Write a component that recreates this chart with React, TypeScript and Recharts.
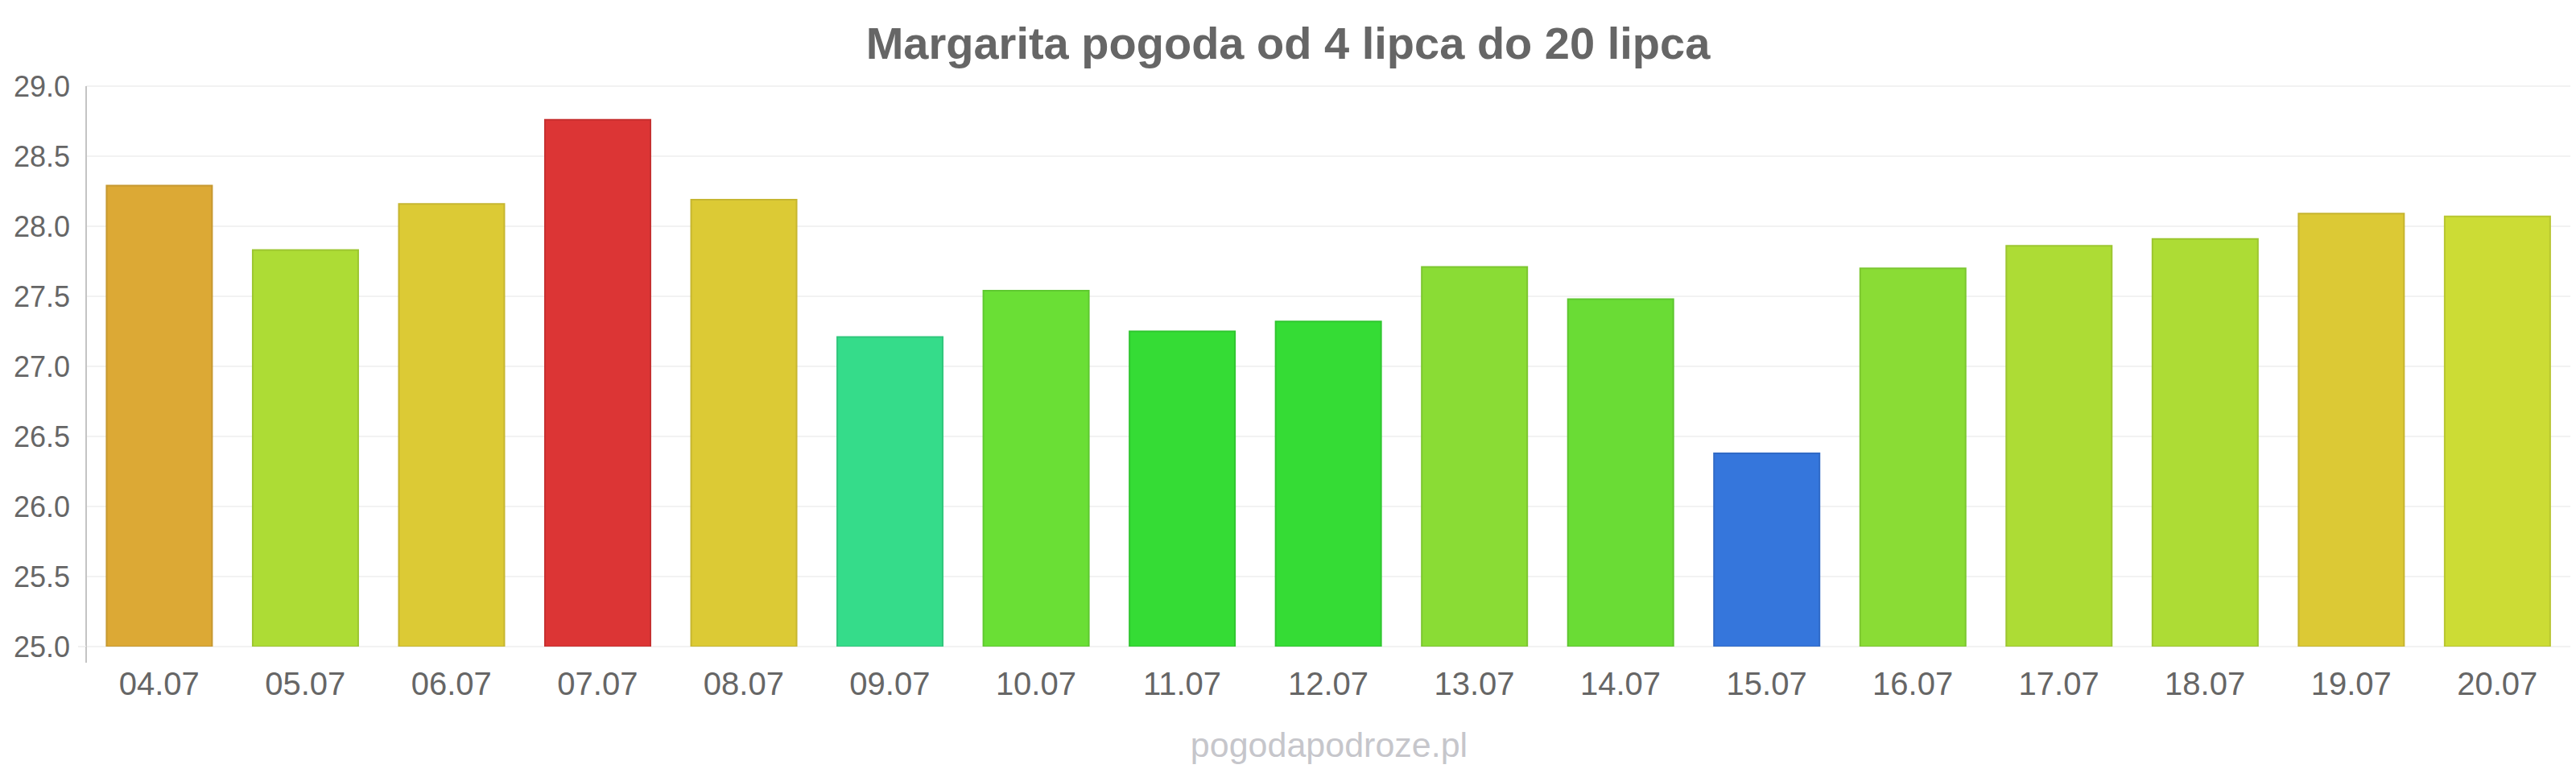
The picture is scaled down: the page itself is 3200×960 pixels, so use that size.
import React from 'react';
import { BarChart, Bar, XAxis, YAxis, CartesianGrid, Cell } from 'recharts';

// Daily temperatures, 4–20 July
const days = [
  '04.07', '05.07', '06.07', '07.07', '08.07', '09.07', '10.07', '11.07', '12.07',
  '13.07', '14.07', '15.07', '16.07', '17.07', '18.07', '19.07', '20.07',
];
const temps = [
  28.29, 27.83, 28.16, 28.76, 28.19, 27.21, 27.54, 27.25, 27.32,
  27.71, 27.48, 26.38, 27.70, 27.86, 27.91, 28.09, 28.07,
];
const barColors = [
  '#dca935', '#addc35', '#dcca35', '#dc3535', '#dcca35', '#35dc8a', '#6adf35', '#35dc35', '#35dc35',
  '#8adc35', '#6adc35', '#3576dc', '#8adc35', '#addc35', '#addc35', '#dcc935', '#ccdc35',
];
const yTicks = [25, 25.5, 26, 26.5, 27, 27.5, 28, 28.5, 29];

const title = 'Margarita pogoda od 4 lipca do 20 lipca';
const watermark = 'pogodapodroze.pl';

const data = days.map((day, i) => ({ day, temp: temps[i] }));

const FONT = '"Liberation Sans", Arial, sans-serif';

function darken(hex: string, f: number) {
  const n = parseInt(hex.slice(1), 16);
  const r = Math.round(((n >> 16) & 255) * f);
  const g = Math.round(((n >> 8) & 255) * f);
  const b = Math.round((n & 255) * f);
  return `rgb(${r},${g},${b})`;
}

const YTick = (props: any) => {
  const { x, y, payload } = props;
  const v = Number(payload.value);
  return (
    <g>
      <text x={x - 20} y={y} dy="0.36em" textAnchor="end" fill="#666" fontSize={36} fontFamily={FONT}>
        {v.toFixed(1)}
      </text>
      {v === 25 && (
        <>
          <line x1={x - 10} y1={y} x2={x} y2={y} stroke="#f0f0f0" strokeWidth={2} />
          <line x1={x} y1={y} x2={x} y2={y + 20} stroke="#c4c4c4" strokeWidth={2} />
        </>
      )}
    </g>
  );
};

const XTick = (props: any) => {
  const { x, y, payload } = props;
  return (
    <text x={x} y={y + 60} textAnchor="middle" fill="#666" fontSize={40} fontFamily={FONT}>
      {payload.value}
    </text>
  );
};

export default function App() {
  return (
    <div style={{ position: 'absolute', left: 0, top: 0, width: 3200, height: 960, background: '#fff' }}>
      <BarChart
        width={3200}
        height={960}
        data={data}
        margin={{ top: 107, right: 7, bottom: 0, left: 0 }}
        barCategoryGap="14%"
      >
        <CartesianGrid vertical={false} stroke="#f2f2f2" strokeWidth={2} />
        <XAxis
          dataKey="day"
          height={157}
          axisLine={false}
          tickLine={false}
          tickSize={0}
          tickMargin={0}
          tick={<XTick />}
          interval={0}
        />
        <YAxis
          width={107}
          domain={[25, 29]}
          ticks={yTicks}
          allowDataOverflow
          axisLine={{ stroke: '#c4c4c4', strokeWidth: 2 }}
          tickLine={false}
          tickSize={0}
          tickMargin={0}
          tick={<YTick />}
          interval={0}
        />
        <Bar dataKey="temp" isAnimationActive={false} strokeWidth={2}>
          {data.map((d, i) => (
            <Cell key={d.day} fill={barColors[i]} stroke={darken(barColors[i], 0.9)} />
          ))}
        </Bar>
      </BarChart>
      <svg
        width={3200}
        height={960}
        style={{ position: 'absolute', left: 0, top: 0, pointerEvents: 'none' }}
      >
        <text x={1600} y={73} textAnchor="middle" fill="#666" fontSize={56} fontWeight="bold" fontFamily={FONT}>
          {title}
        </text>
        <text x={1651} y={940} textAnchor="middle" fill="#c6c6cb" fontSize={43} fontFamily={FONT}>
          {watermark}
        </text>
      </svg>
    </div>
  );
}
